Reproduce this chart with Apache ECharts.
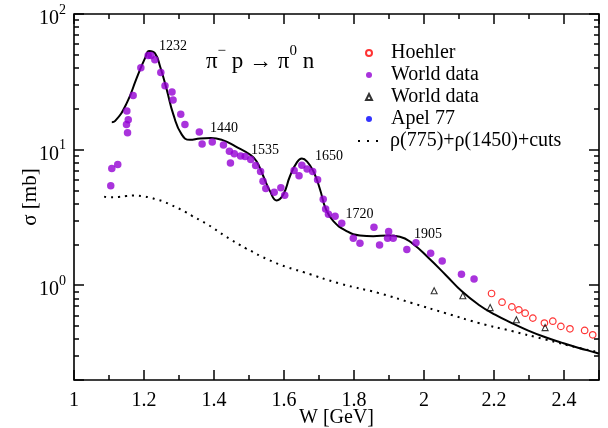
<!DOCTYPE html>
<html><head><meta charset="utf-8">
<script src="https://cdn.jsdelivr.net/npm/echarts/dist/echarts.min.js"></script>
<style>html,body{margin:0;padding:0;background:#fff}#c{width:608px;height:428px}</style>
</head><body><div id="c"></div>
<script>
// ---- data ----
const worldW = [1.105,1.108,1.125,1.153,1.150,1.155,1.151,1.169,1.191,1.212,1.220,1.231,1.248,1.260,1.280,1.283,1.305,1.317,1.358,1.366,1.395,1.427,1.444,1.447,1.458,1.476,1.489,1.505,1.519,1.533,1.540,1.548,1.572,1.591,1.602,1.629,1.643,1.651,1.666,1.682,1.696,1.712,1.719,1.727,1.746,1.765,1.798,1.817,1.857,1.873,1.896,1.899,1.912,1.951,1.977,2.019,2.052,2.107,2.143];
const worldSigma = [5.41,7.25,7.76,13.3,15.3,16.6,19.3,25.1,40.1,49.4,49.4,45.9,37.0,29.6,26.6,23.2,18.2,15.3,13.5,11.0,11.4,10.8,9.72,7.96,9.31,8.96,8.89,8.44,7.63,6.89,5.85,5.17,4.85,5.23,4.61,7.01,6.41,7.67,7.19,6.91,5.99,4.30,3.65,3.33,3.23,2.86,2.22,2.04,2.68,1.98,2.22,2.49,2.22,1.83,2.06,1.72,1.51,1.205,1.11];
const triW = [2.029,2.111,2.189,2.264,2.346];
const triSigma = [0.911,0.837,0.684,0.557,0.487];
const hoehlerW = [2.193,2.223,2.251,2.271,2.289,2.311,2.344,2.368,2.391,2.417,2.459,2.482];
const hoehlerSigma = [0.869,0.750,0.692,0.658,0.622,0.572,0.526,0.543,0.497,0.477,0.464,0.431];
const apelW = [];
const apelSigma = [];
const fitW = [1.108,1.117,1.151,1.179,1.203,1.215,1.231,1.246,1.265,1.284,1.308,1.331,1.360,1.391,1.423,1.460,1.505,1.522,1.541,1.560,1.579,1.598,1.617,1.636,1.651,1.666,1.684,1.703,1.719,1.741,1.779,1.817,1.855,1.897,1.931,1.966,2.014,2.062,2.109,2.156,2.203,2.251,2.298,2.345,2.393,2.440,2.492,2.5];
const fitSigma = [15.9,16.2,22.1,33.7,47.3,53.4,51.4,41.0,27.6,18.1,12.9,11.8,12.1,12.2,11.8,10.6,9.11,8.16,6.36,4.94,4.22,4.67,6.36,7.98,8.59,8.16,6.92,5.08,3.68,2.97,2.51,2.33,2.30,2.33,2.28,2.04,1.58,1.19,0.897,0.718,0.606,0.526,0.463,0.415,0.377,0.346,0.318,0.313];
const rhoW = [1.086,1.105,1.127,1.149,1.171,1.193,1.215,1.236,1.257,1.278,1.299,1.318,1.337,1.358,1.376,1.396,1.413,1.432,1.451,1.471,1.491,1.511,1.531,1.551,1.571,1.591,1.612,1.633,1.655,1.759,1.872,1.967,2.062,2.156,2.251,2.346,2.44,2.491];
const rhoSigma = [4.50,4.45,4.48,4.54,4.58,4.54,4.44,4.29,4.13,3.90,3.68,3.48,3.25,3.04,2.86,2.66,2.48,2.30,2.15,2.00,1.87,1.76,1.65,1.56,1.48,1.41,1.35,1.30,1.25,1.03,0.873,0.737,0.622,0.527,0.459,0.398,0.346,0.324];
const resonanceLabels = ['1232','1440','1535','1650','1720','1905'];
const X_MIN = 1, X_MAX = 2.5, X_STEP = 0.2, Y_MIN = 0.2, Y_MAX = 100;

// ---- build ----
const FONT = 'Liberation Serif';
const zip = (a, b) => a.map((v, i) => [v, b[i]]);
const annotPos = [[173,46],[224,128],[265,150],[329,156],[359.5,214.5],[428,234]];
const PURPLE = '#9400d3';
const mkTick = () => ({color: '#030303', width: 1.5});

const chart = echarts.init(document.getElementById('c'), null, {renderer: 'canvas'});
const mkLegendText = pad => ({fontFamily: FONT, fontSize: 20, color: '#000', lineHeight: 22, padding: [0, 0, 0, pad]});

const mkX = () => ({
  type: 'value', min: X_MIN, max: X_MAX, interval: X_STEP,
  axisLine: {show: false}, splitLine: {show: false},
  axisTick: {show: true, inside: true, length: 10, lineStyle: mkTick()},
  minorTick: {show: true, splitNumber: 2, length: 5, lineStyle: mkTick()}
});
const mkY = () => ({
  type: 'log', logBase: 10, min: Y_MIN, max: Y_MAX,
  axisLine: {show: false}, splitLine: {show: false}, minorSplitLine: {show: false},
  axisTick: {show: true, inside: true, length: 10, lineStyle: mkTick()},
  minorTick: {show: true, splitNumber: 9, length: 5, lineStyle: mkTick()}
});

const titles = [
  {text: '{a|π}{s|−}{a| p → π}{s|0}{a| n}', left: 206, top: 43.5, padding: 0, itemGap: 0,
    textStyle: {fontFamily: FONT, fontSize: 23, fontWeight: 'normal', color: '#000', lineHeight: 36,
      rich: {a: {fontFamily: FONT, fontSize: 23, color: '#000', lineHeight: 36, verticalAlign: 'middle'},
             s: {fontFamily: FONT, fontSize: 15, color: '#000', lineHeight: 15, verticalAlign: 'top'}}}}
].concat(resonanceLabels.map((t, i) => ({
  text: t, left: annotPos[i][0] - 14, top: annotPos[i][1] - 8, padding: 0,
  textStyle: {fontFamily: FONT, fontSize: 14, fontWeight: 'normal', color: '#000', lineHeight: 16}
})));

chart.setOption({
  animation: false,
  title: titles,
  grid: {left: 74, right: 9, top: 14, bottom: 48, show: true, borderColor: '#000', borderWidth: 1.6, outerBoundsMode: 'none'},
  legend: [
    {orient: 'vertical', left: 365, top: 42, padding: 0, itemWidth: 6, itemHeight: 6, itemGap: 0,
      symbolKeepAspect: true, textStyle: mkLegendText(14),
      data: ['Hoehler', 'World data', 'World data ', 'Apel 77']},
    {orient: 'vertical', left: 358, top: 130, padding: 0, itemWidth: 20, itemHeight: 2, itemGap: 0,
      textStyle: mkLegendText(7),
      data: [{name: 'ρ(775)+ρ(1450)+cuts', icon: 'path://M0,0h2v2h-2zM9,0h2v2h-2zM18,0h2v2h-2z', itemStyle: {color: '#000'}}]}
  ],
  xAxis: [
    Object.assign(mkX(), {
      position: 'bottom',
      axisLabel: {fontFamily: FONT, fontSize: 20, color: '#000', margin: 11,
        formatter: v => (Math.abs(v - X_MAX) < 1e-9 ? '' : String(Math.round(v * 10) / 10))},
      name: 'W [GeV]', nameLocation: 'middle', nameGap: 28, nameMoveOverlap: false,
      nameTextStyle: {fontFamily: FONT, fontSize: 20, color: '#000'}
    }),
    Object.assign(mkX(), {position: 'top', axisLabel: {show: false}})
  ],
  yAxis: [
    Object.assign(mkY(), {
      position: 'left',
      axisLabel: {margin: 8,
        formatter: v => {
          const e = Math.round(Math.log10(v));
          if (Math.abs(v - Math.pow(10, e)) < 1e-6 * v) return '{b|10}{s|' + e + '}';
          return '';
        },
        rich: {
          b: {fontFamily: FONT, fontSize: 20, color: '#000', lineHeight: 30, verticalAlign: 'bottom'},
          s: {fontFamily: FONT, fontSize: 14, color: '#000', lineHeight: 30, verticalAlign: 'top', padding: [4,0,0,0]}
        }
      },
      name: 'σ [mb]', nameLocation: 'middle', nameGap: 33, nameMoveOverlap: false,
      nameTextStyle: {fontFamily: FONT, fontSize: 21, color: '#000'}
    }),
    Object.assign(mkY(), {position: 'right', axisLabel: {show: false}})
  ],
  series: [
    {name: 'Hoehler', type: 'scatter', data: zip(hoehlerW, hoehlerSigma), symbol: 'circle', symbolSize: 6.5,
      itemStyle: {color: 'rgba(255,255,255,0)', borderColor: '#ff0000', borderWidth: 1.2}, z: 5},
    {name: 'World data', type: 'scatter', data: zip(worldW, worldSigma), symbol: 'circle', symbolSize: 7.5,
      itemStyle: {color: PURPLE}, z: 4},
    {name: 'World data ', type: 'scatter', data: zip(triW, triSigma), symbol: 'triangle', symbolSize: 6,
      itemStyle: {color: 'rgba(255,255,255,0)', borderColor: '#000', borderWidth: 1.1}, z: 5},
    {name: 'Apel 77', type: 'scatter', data: zip(apelW, apelSigma), symbol: 'circle', symbolSize: 7,
      itemStyle: {color: '#0000ff'}},
    {name: 'ρ(775)+ρ(1450)+cuts', type: 'line', data: zip(rhoW, rhoSigma), showSymbol: false, symbol: 'none', smooth: true,
      lineStyle: {color: '#000', width: 2, type: [2, 5]}, itemStyle: {color: '#000'}, z: 3},
    {name: 'fit', type: 'line', data: zip(fitW, fitSigma), showSymbol: false, symbol: 'none', smooth: true,
      lineStyle: {color: '#000', width: 2}, z: 3}
  ]
});
</script>
</body></html>
